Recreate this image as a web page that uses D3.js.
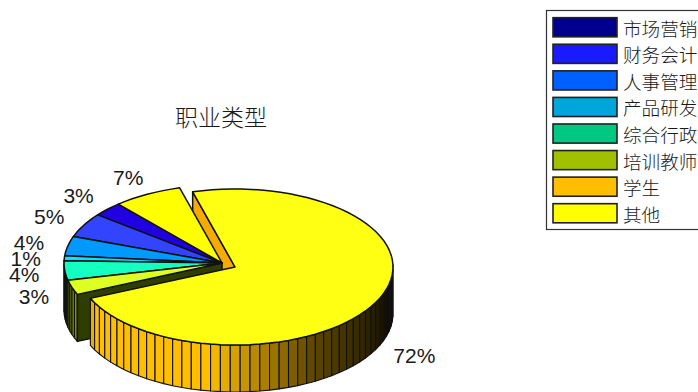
<!DOCTYPE html>
<html>
<head>
<meta charset="utf-8">
<script src="https://cdn.jsdelivr.net/npm/d3@7/dist/d3.min.js"></script>
<style>
html,body{margin:0;padding:0;background:#fff;overflow:hidden}
svg{display:block}
text{fill:#1a1a1a}
</style>
</head>
<body>
<svg id="chart" width="698" height="392"></svg>
<script>
// Occupation mix, in legend order
const categories = ["市场营销","财务会计","人事管理","产品研发","综合行政","培训教师","学生","其他"];
const shares = [3,5,4,1,4,3,72,7];
const legendColors = ["#00008f","#1a1aff","#0060ff","#00a5dc","#00c882","#a0c000","#ffbf00","#ffff00"];
const topColors = ["#2000e0","#3344ff","#0099ff","#00e5ff","#14ffc0","#ddff22","#ffff14","#ffff00"];
const titleText = "职业类型";
const explodedCategory = "学生";

const rx = 158, ry = 78, depth = 47;
const groupCentre = {x:222, y:263};
const explodedCentre = {x:235, y:267};
const facetsPerTurn = 100;
const rad = Math.PI / 180;

const svg = d3.select("#chart");
const labelFont = "'Liberation Sans', Arial, sans-serif";
const cjkFont = "'Noto Sans CJK SC', sans-serif";

// Slices run anticlockwise from the upper left, seen from above
const firstAngle = -41 * rad;
const pie = d3.pie().sortValues(null).startAngle(firstAngle).endAngle(firstAngle - 2 * Math.PI);
const arcs = pie(shares);

// Tilted-disc projection: unit circle to screen, with z pushing downward
const ux = d3.scaleLinear().domain([-1, 1]).range([-rx, rx]);
const uy = d3.scaleLinear().domain([-1, 1]).range([ry, -ry]);
const project = (c, a, r = 1, z = 0) => [
  c.x + ux(r * Math.sin(a)),
  c.y + uy(r * Math.cos(a)) + z
];
const line = d3.line();

// Shading of the outer wall: full colour facing lower left, falling to near black at the sides
const wallLight = d3.scaleLinear().domain([90, 105, 150, 190, 242, 262, 272]).range([0.03, 0.06, 0.36, 1, 1, 0.3, 0.02]).clamp(true);
const shade = (col, deg) => {
  const f = wallLight(((deg % 360) + 360) % 360);
  const c = d3.rgb(col);
  return d3.rgb(c.r * f, c.g * f, c.b * f).formatHex();
};

function facetAngles(d) {
  const n = Math.max(1, Math.ceil(facetsPerTurn * (d.startAngle - d.endAngle) / (2 * Math.PI)));
  return d3.range(n + 1).map(i => d.startAngle + (d.endAngle - d.startAngle) * i / n);
}

function drawWall(d, i, c) {
  const as = facetAngles(d);
  d3.pairs(as).forEach(([a0, a1]) => {
    const mid = (a0 + a1) / 2;
    if (Math.cos(mid) > 0.02) return;
    svg.append("path")
      .attr("d", line([project(c, a0), project(c, a1), project(c, a1, 1, depth), project(c, a0, 1, depth)]) + "Z")
      .attr("fill", shade(legendColors[i], mid / rad))
      .attr("stroke", "#111").attr("stroke-width", 1.1).attr("stroke-linejoin", "round");
  });
}

function drawTop(d, i, c) {
  const pts = [[c.x, c.y], ...facetAngles(d).map(a => project(c, a))];
  svg.append("path")
    .attr("d", line(pts) + "Z")
    .attr("fill", topColors[i])
    .attr("stroke", "#111").attr("stroke-width", 1.5).attr("stroke-linejoin", "round");
}

function drawCut(c, a, fill) {
  svg.append("path")
    .attr("d", line([[c.x, c.y], project(c, a), project(c, a, 1, depth), [c.x, c.y + depth]]) + "Z")
    .attr("fill", fill)
    .attr("stroke", "#111").attr("stroke-width", 1.5).attr("stroke-linejoin", "round");
}

const explodedIndex = categories.indexOf(explodedCategory);
const exploded = arcs[explodedIndex];
const trailing = arcs[explodedIndex - 1];

// Back to front: the far cut face of the pulled slice, then the main body, then the pulled slice
drawCut(explodedCentre, exploded.endAngle, "#f5ab00");

arcs.forEach((d, i) => { if (i !== explodedIndex) drawWall(d, i, groupCentre); });
drawCut(groupCentre, trailing.endAngle, "#2e3d00");
arcs.forEach((d, i) => { if (i !== explodedIndex) drawTop(d, i, groupCentre); });

drawWall(exploded, explodedIndex, explodedCentre);
drawTop(exploded, explodedIndex, explodedCentre);

// Percentage labels sit on a ring outside the rim
const labelNudgeX = [-6, -7, -8, -7, -9, -8, 8, -4];
const labelNudgeY = [-3, -1, 0, 1, 2, 4, 48, -3];
arcs.forEach((d, i) => {
  const c = i === explodedIndex ? explodedCentre : groupCentre;
  const mid = (d.startAngle + d.endAngle) / 2;
  const [x, y] = project(c, mid, 1.2);
  svg.append("text")
    .attr("x", x + labelNudgeX[i]).attr("y", y + labelNudgeY[i])
    .attr("text-anchor", "middle").attr("dominant-baseline", "central")
    .style("font-family", labelFont).style("font-size", "21px")
    .text(d3.format(".0f")(shares[i]) + "%");
});

// Title
svg.append("text")
  .attr("x", 221).attr("y", 116)
  .attr("text-anchor", "middle").attr("dominant-baseline", "central")
  .style("font-family", cjkFont).style("font-size", "23px").style("font-weight", 300)
  .text(titleText);

// Legend box, running past the right edge of the page
const legendY = d3.scaleBand().domain(categories).range([14.5, 226]).paddingInner(0.28).paddingOuter(0.12);
svg.append("rect")
  .attr("x", 546.5).attr("y", 10.5).attr("width", 170).attr("height", 219)
  .attr("fill", "#fff").attr("stroke", "#333").attr("stroke-width", 1.2);
categories.forEach((name, i) => {
  svg.append("rect")
    .attr("x", 553).attr("y", legendY(name)).attr("width", 64).attr("height", legendY.bandwidth())
    .attr("fill", legendColors[i]).attr("stroke", "#222").attr("stroke-width", 1.6);
  svg.append("text")
    .attr("x", 623).attr("y", legendY(name) + legendY.bandwidth() / 2)
    .attr("dominant-baseline", "central")
    .style("font-family", cjkFont).style("font-size", "18.6px").style("font-weight", 300)
    .text(name);
});
</script>
</body>
</html>
